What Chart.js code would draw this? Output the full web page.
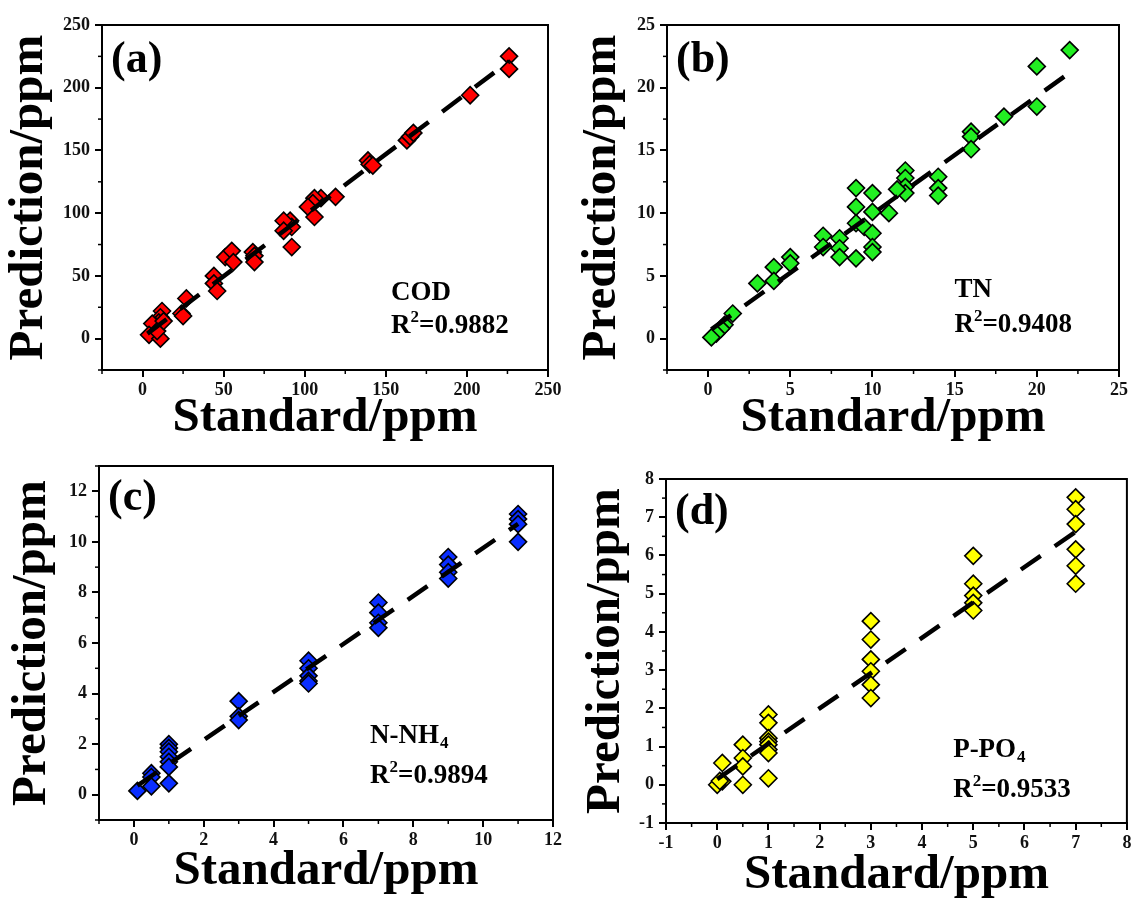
<!DOCTYPE html>
<html>
<head>
<meta charset="utf-8">
<script src="https://cdn.jsdelivr.net/npm/chart.js@4.4.1/dist/chart.umd.min.js"></script>
<style>
  body { margin: 0; background: #fff; width: 1131px; height: 900px; position: relative; overflow: hidden; }
  canvas { position: absolute; }
</style>
</head>
<body>
<canvas id="cA" width="565" height="450" style="left:0;top:0"></canvas>
<canvas id="cB" width="566" height="450" style="left:565px;top:0"></canvas>
<canvas id="cC" width="565" height="450" style="left:0;top:450px"></canvas>
<canvas id="cD" width="572" height="450" style="left:565px;top:450px"></canvas>
<script>
// (a) COD
const codStd  = [226, 226, 202, 163, 165, 167, 139, 140, 142, 119, 110, 106, 105, 102, 106, 91, 92, 87, 87, 92, 68, 69, 69, 51, 55, 56, 44, 44, 46, 27, 24, 25, 12, 11, 10, 8, 6, 4, 11, 9, 13];
const codPred = [225, 215, 194, 158, 161, 164, 142, 139, 138, 113, 112, 112, 108, 105, 97, 94, 89, 94, 86, 73, 69, 66, 61, 65, 70, 61, 50, 44, 38, 32, 20, 18, 22, 17, 13, 10, 12, 3, 0, 6, 14];
const codFitX = [3, 226];
const codFitY = [4, 221];
const codXRange = [-25, 250];
const codYRange = [-25, 250];
const codXTicks = [0, 50, 100, 150, 200, 250];
const codYTicks = [0, 50, 100, 150, 200, 250];

// (b) TN
const tnStd  = [22, 20, 20, 18, 16, 16, 16, 14, 14, 14, 12, 12, 12, 12, 11.5, 11, 9, 9, 10, 10, 9, 9.5, 10, 10, 10, 9, 8, 8, 8, 7, 7, 5, 5, 4, 4, 3, 1.5, 1, 0.8, 0.5, 0.2];
const tnPred = [23.0, 21.7, 18.5, 17.7, 16.5, 16.1, 15.1, 12.9, 12.0, 11.4, 13.4, 12.8, 12.1, 11.6, 11.9, 10.0, 12.0, 10.5, 11.6, 10.1, 9.2, 8.9, 8.4, 7.3, 6.9, 6.4, 8.0, 7.2, 6.5, 8.2, 7.3, 6.5, 6.0, 5.7, 4.6, 4.4, 2.0, 1.1, 0.8, 0.4, 0.1];
const tnFitX = [0.2, 22];
const tnFitY = [0.74, 21.2];
const tnXRange = [-2.5, 25];
const tnYRange = [-2.5, 25];
const tnXTicks = [0, 5, 10, 15, 20, 25];
const tnYTicks = [0, 5, 10, 15, 20, 25];

// (c) N-NH4
const nhStd  = [11, 11, 11, 11, 9, 9, 9, 9, 7, 7, 7, 7, 5, 5, 5, 5, 5, 3, 3, 3, 1, 1, 1, 1, 1, 1, 1, 0.5, 0.5, 0.5, 0.1];
const nhPred = [11.1, 10.9, 10.7, 10.0, 9.4, 9.1, 8.8, 8.55, 7.6, 7.2, 6.8, 6.6, 5.3, 5.0, 4.7, 4.5, 4.4, 3.7, 3.1, 2.95, 2.0, 1.85, 1.7, 1.5, 1.3, 1.1, 0.45, 0.85, 0.7, 0.33, 0.15];
const nhFitX = [0.1, 11];
const nhFitY = [0.36, 10.71];
const nhXRange = [-1, 12];
const nhYRange = [-1, 13];
const nhXTicks = [0, 2, 4, 6, 8, 10, 12];
const nhYTicks = [0, 2, 4, 6, 8, 10, 12];

// (d) P-PO4
const poStd  = [7, 7, 7, 7, 7, 7, 5, 5, 5, 5, 5, 3, 3, 3, 3, 3, 3, 1, 1, 1, 1, 1, 1, 1, 1, 0.5, 0.5, 0.5, 0.5, 0.1, 0.1, 0, 0.05];
const poPred = [7.52, 7.21, 6.82, 6.16, 5.73, 5.26, 5.99, 5.26, 4.95, 4.76, 4.56, 4.28, 3.80, 3.28, 2.97, 2.62, 2.27, 1.84, 1.62, 1.22, 1.13, 1.05, 0.92, 0.83, 0.17, 1.05, 0.70, 0.48, 0.0, 0.57, 0.09, 0.0, 0.1];
const poFitX = [0, 7];
const poFitY = [0.15, 6.62];
const poXRange = [-1, 8];
const poYRange = [-1, 8];
const poXTicks = [-1, 0, 1, 2, 3, 4, 5, 6, 7, 8];
const poYTicks = [-1, 0, 1, 2, 3, 4, 5, 6, 7, 8];

const fam = "'Liberation Serif', 'Times New Roman', serif";

// frame box, minor ticks and the panel texts
const panelDeco = {
  id: 'panelDeco',
  afterDatasetsDraw(chart, args, o) {
    const { ctx, chartArea: a, scales } = chart;
    const w = a.right - a.left, h = a.bottom - a.top;
    ctx.save();
    ctx.strokeStyle = '#000';
    ctx.lineWidth = 2;
    ctx.strokeRect(a.left, a.top, w, h);

    // minor ticks halfway between the major ones
    ctx.lineWidth = 1.5;
    ['x', 'y'].forEach(k => {
      const s = scales[k];
      const vals = s.ticks.map(t => t.value);
      const half = (vals[1] - vals[0]) / 2;
      const start = vals[0] - Math.floor((vals[0] - s.min) / half + 1e-9) * half;
      for (let v = start; v <= s.max + 1e-9; v += half) {
        if (vals.some(t => Math.abs(t - v) < 1e-6)) continue;
        const p = s.getPixelForValue(v);
        ctx.beginPath();
        if (k === 'x') { ctx.moveTo(p, a.bottom); ctx.lineTo(p, a.bottom + 4); }
        else { ctx.moveTo(a.left, p); ctx.lineTo(a.left - 4, p); }
        ctx.stroke();
      }
    });

    ctx.fillStyle = '#000';
    ctx.textAlign = 'left';
    ctx.textBaseline = 'alphabetic';
    ctx.font = 'bold 44px ' + fam;
    ctx.fillText(o.tag, a.left + 9, a.top + o.tagDy);

    const nx = a.left + o.nx * w;
    const y1 = a.top + o.ny1 * h, y2 = a.top + o.ny2 * h;
    ctx.font = 'bold 27px ' + fam;
    ctx.fillText(o.name, nx, y1);
    if (o.sub) {
      const wn = ctx.measureText(o.name).width;
      ctx.font = 'bold 17px ' + fam;
      ctx.fillText(o.sub, nx + wn + 1, y1 + 5);
    }
    ctx.font = 'bold 27px ' + fam;
    ctx.fillText('R', nx, y2);
    const wr = ctx.measureText('R').width;
    ctx.font = 'bold 17px ' + fam;
    ctx.fillText('2', nx + wr, y2 - 11);
    const w2 = ctx.measureText('2').width;
    ctx.font = 'bold 27px ' + fam;
    ctx.fillText('=' + o.r2, nx + wr + w2, y2);
    ctx.restore();
  }
};

function axis(r, tickVals, text, size, titlePad, horiz) {
  return {
    type: 'linear',
    min: r[0],
    max: r[1],
    afterFit: s => { if (horiz) s.height = size; else s.width = size; },
    afterBuildTicks: s => { s.ticks = tickVals.map(v => ({ value: v })); },
    ticks: {
      padding: horiz ? 3 : 5,
      color: '#111',
      font: { family: fam, size: 18, weight: 'bold' }
    },
    grid: { drawOnChartArea: false, tickLength: 7, lineWidth: 2, color: '#000' },
    border: { display: true, color: '#000', width: 2 },
    title: {
      display: true,
      text: text,
      color: '#000',
      font: { family: fam, size: 49, weight: 'bold', lineHeight: 1 },
      padding: horiz ? { top: 0, bottom: titlePad } : { top: titlePad, bottom: 0 }
    }
  };
}

function makePanel(id, std, pred, fitX, fitY, color, xr, yr, xt, yt, lay, deco) {
  const pts = std.map((v, i) => ({ x: v, y: pred[i] }));
  const fit = fitX.map((v, i) => ({ x: v, y: fitY[i] }));
  new Chart(document.getElementById(id), {
    type: 'scatter',
    data: {
      datasets: [
        { type: 'line', data: fit, borderColor: '#000', borderWidth: 4.5, borderDash: [24, 17],
          pointRadius: 0, fill: false },
        { data: pts, pointStyle: 'rectRot', pointRadius: 8.5, pointHoverRadius: 8.5,
          backgroundColor: color, borderColor: '#000', borderWidth: 1.6 }
      ]
    },
    options: {
      responsive: false,
      animation: false,
      devicePixelRatio: 1,
      layout: { padding: { top: lay.top, right: lay.right, left: 0, bottom: 0 } },
      plugins: { legend: { display: false }, tooltip: { enabled: false }, panelDeco: deco },
      scales: {
        x: axis(xr, xt, 'Standard/ppm', lay.xH, lay.xPad, true),
        y: axis(yr, yt, 'Prediction/ppm', lay.yW, lay.yPad, false)
      }
    },
    plugins: [panelDeco]
  });
}

makePanel('cA', codStd, codPred, codFitX, codFitY, '#ff0000', codXRange, codYRange, codXTicks, codYTicks,
  { top: 25, right: 17, yW: 102, xH: 80, yPad: 5, xPad: 7 },
  { tag: '(a)', tagDy: 47, name: 'COD', nx: 0.648, ny1: 0.797, ny2: 0.893, r2: '0.9882' });
makePanel('cB', tnStd, tnPred, tnFitX, tnFitY, '#22ee22', tnXRange, tnYRange, tnXTicks, tnYTicks,
  { top: 25, right: 11, yW: 102, xH: 80, yPad: 13, xPad: 7 },
  { tag: '(b)', tagDy: 47, name: 'TN', nx: 0.636, ny1: 0.788, ny2: 0.89, r2: '0.9408' });
makePanel('cC', nhStd, nhPred, nhFitX, nhFitY, '#0a2eff', nhXRange, nhYRange, nhXTicks, nhYTicks,
  { top: 16, right: 12, yW: 99, xH: 80, yPad: 8, xPad: 4 },
  { tag: '(c)', tagDy: 44, name: 'N-NH', sub: '4', nx: 0.597, ny1: 0.782, ny2: 0.895, r2: '0.9894' });
makePanel('cD', poStd, poPred, poFitX, poFitY, '#ffff00', poXRange, poYRange, poXTicks, poYTicks,
  { top: 29, right: 2, yW: 101, xH: 77, yPad: 17, xPad: 0 },
  { tag: '(d)', tagDy: 45, name: 'P-PO', sub: '4', nx: 0.623, ny1: 0.808, ny2: 0.924, r2: '0.9533' });
</script>
</body>
</html>
